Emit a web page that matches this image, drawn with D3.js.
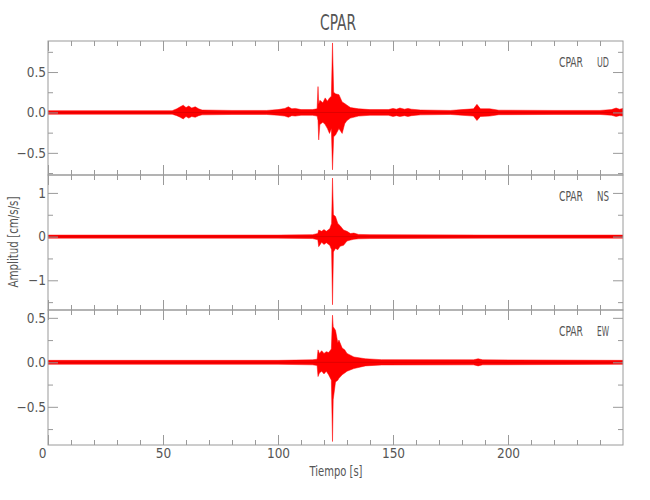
<!DOCTYPE html>
<html><head><meta charset="utf-8">
<script src="https://cdn.jsdelivr.net/npm/d3@7"></script>
<style>body{margin:0;background:#fff}</style>
</head><body><svg id="c" width="650" height="500"></svg>
<script>
// ---- data (envelopes: time [s], upper / lower amplitude [cm/s/s]) ----
const stationName = "CPAR";
const components = ["UD", "NS", "EW"];
const timeDomain = [0, 250];
const timeTicks = [0, 50, 100, 150, 200];

const udT  = [0,20,40,54,56,57.5,58.8,60,61.2,62.5,64,65.5,67,80,95,100,103,104.5,106,107.5,110,115,117,117.4,117.7,118.2,119.5,120.5,121.5,122.4,123.2,123.7,124.2,125,126.5,127.9,129,130,131.5,135,140,148,150,151.5,153,155,156.5,158,162,175,180,185,186.5,188,192,196,220,240,245,247,248.5,250];
const udHi = [0.022,0.022,0.022,0.022,0.045,0.07,0.09,0.06,0.08,0.055,0.07,0.045,0.03,0.025,0.025,0.035,0.05,0.07,0.045,0.05,0.035,0.035,0.045,0.32,0.1,0.15,0.12,0.18,0.14,0.18,0.2,0.86,0.25,0.23,0.22,0.13,0.11,0.09,0.06,0.045,0.035,0.035,0.05,0.04,0.055,0.04,0.05,0.04,0.03,0.025,0.035,0.045,0.1,0.045,0.045,0.028,0.025,0.025,0.035,0.055,0.04,0.05];
const udLo = [-0.022,-0.022,-0.022,-0.022,-0.04,-0.06,-0.08,-0.05,-0.07,-0.05,-0.06,-0.04,-0.03,-0.025,-0.025,-0.035,-0.045,-0.06,-0.04,-0.045,-0.035,-0.035,-0.045,-0.1,-0.34,-0.15,-0.12,-0.15,-0.2,-0.26,-0.2,-0.71,-0.3,-0.28,-0.2,-0.26,-0.14,-0.1,-0.07,-0.045,-0.035,-0.035,-0.05,-0.04,-0.05,-0.04,-0.05,-0.04,-0.03,-0.025,-0.035,-0.045,-0.1,-0.05,-0.045,-0.028,-0.025,-0.025,-0.035,-0.05,-0.04,-0.045];

const nsT  = [0,50,100,115,117.3,117.7,119,120,121,122.5,123.3,123.7,124.1,125,126,127,128.5,130,131.5,133,135,140,190,250];
const nsHi = [0.035,0.035,0.035,0.045,0.07,0.15,0.12,0.16,0.12,0.18,0.3,1.34,0.5,0.46,0.3,0.25,0.15,0.12,0.07,0.08,0.05,0.045,0.035,0.035];
const nsLo = [-0.035,-0.035,-0.035,-0.045,-0.07,-0.23,-0.13,-0.18,-0.14,-0.2,-0.3,-1.56,-0.35,-0.27,-0.3,-0.22,-0.2,-0.1,-0.08,-0.06,-0.05,-0.045,-0.035,-0.035];

const ewT  = [0,50,100,115,117,117.4,118,119,120,121,122,123.2,123.7,124.0,125,126,126.5,127.9,129,130,133,138,145,185,187,189,250];
const ewHi = [0.022,0.022,0.022,0.028,0.035,0.14,0.1,0.13,0.1,0.12,0.11,0.15,0.53,0.4,0.36,0.22,0.25,0.16,0.14,0.1,0.06,0.04,0.03,0.028,0.04,0.028,0.022];
const ewLo = [-0.022,-0.022,-0.022,-0.028,-0.035,-0.16,-0.12,-0.1,-0.13,-0.1,-0.14,-0.2,-0.89,-0.42,-0.22,-0.2,-0.18,-0.14,-0.12,-0.1,-0.07,-0.04,-0.03,-0.028,-0.04,-0.028,-0.022];

const udRange = [-0.774, 0.884], nsRange = [-1.68, 1.41], ewRange = [-0.929, 0.588];
const udTicks = [-0.5, 0, 0.5], udTickLabels = ["\u22120.5", "0.0", "0.5"], udMinor = [-0.75, -0.25, 0.25, 0.75];
const nsTicks = [-1, 0, 1],     nsTickLabels = ["\u22121", "0", "1"],        nsMinor = [-1.5, -0.5, 0.5];
const ewTicks = [-0.5, 0, 0.5], ewTickLabels = ["\u22120.5", "0.0", "0.5"], ewMinor = [-0.75, -0.25, 0.25];

// ---- layout ----
const svg = d3.select("#c");
const FONT = "'Liberation Sans Narrow','DejaVu Sans Condensed','Liberation Sans',sans-serif";
const AX = "#9a9a9a", TX = "#555";
const L = 48, R = 623;
const panelTops = [41, 175, 310], panelBots = [175, 310, 445];

const x = d3.scaleLinear().domain(timeDomain).range([L, R]);
const xMinor = d3.range(timeDomain[0], timeDomain[1] + 1, 10).filter(v => v % 50 !== 0);

const series = [
  {comp: components[0], t: udT, hi: udHi, lo: udLo, range: udRange, ticks: udTicks, labels: udTickLabels, minor: udMinor},
  {comp: components[1], t: nsT, hi: nsHi, lo: nsLo, range: nsRange, ticks: nsTicks, labels: nsTickLabels, minor: nsMinor},
  {comp: components[2], t: ewT, hi: ewHi, lo: ewLo, range: ewRange, ticks: ewTicks, labels: ewTickLabels, minor: ewMinor}
];

svg.append("rect").attr("width", 650).attr("height", 500).attr("fill", "#fff");

series.forEach((s, i) => {
  const top = panelTops[i], bot = panelBots[i];
  const y = d3.scaleLinear().domain(s.range).range([bot, top]);
  const g = svg.append("g");

  const cid = "clip" + i;
  svg.append("clipPath").attr("id", cid).append("rect")
    .attr("x", L).attr("y", top).attr("width", R - L).attr("height", bot - top);

  // trace envelope
  const pts = s.t.map((t, k) => ({t, hi: s.hi[k], lo: s.lo[k]}));
  const area = d3.area().x(d => x(d.t)).y0(d => y(d.lo)).y1(d => y(d.hi));
  g.append("path").datum(pts).attr("d", area)
    .attr("clip-path", `url(#${cid})`)
    .attr("fill", "#ff0000").attr("stroke", "#ff0000").attr("stroke-width", 0.5)
    .attr("stroke-linejoin", "round");
  // zero line through the band (darker core of the dense trace)
  g.append("line").attr("x1", L).attr("x2", R).attr("y1", y(0)).attr("y2", y(0))
    .attr("stroke", "#e00000").attr("stroke-width", 1);

  const styleAxis = sel => {
    sel.select(".domain").remove();
    sel.selectAll("line").attr("stroke", AX);
    sel.selectAll("text").attr("fill", TX).attr("font-family", FONT).attr("font-size", 13.5);
  };
  const fmt = v => s.labels[s.ticks.indexOf(v)];
  g.append("g").attr("transform", `translate(${L},0)`)
    .call(d3.axisLeft(y).tickValues(s.ticks).tickFormat(fmt).tickSize(-10).tickPadding(2)).call(styleAxis);
  g.append("g").attr("transform", `translate(${L},0)`)
    .call(d3.axisLeft(y).tickValues(s.minor).tickFormat("").tickSize(-5)).call(styleAxis);
  g.append("g").attr("transform", `translate(${R},0)`)
    .call(d3.axisRight(y).tickValues(s.ticks).tickFormat("").tickSize(-10)).call(styleAxis);
  g.append("g").attr("transform", `translate(${R},0)`)
    .call(d3.axisRight(y).tickValues(s.minor).tickFormat("").tickSize(-5)).call(styleAxis);

  g.append("g").attr("transform", `translate(0,${top})`)
    .call(d3.axisTop(x).tickValues(timeTicks).tickFormat("").tickSize(-10)).call(styleAxis);
  g.append("g").attr("transform", `translate(0,${top})`)
    .call(d3.axisTop(x).tickValues(xMinor).tickFormat("").tickSize(-5)).call(styleAxis);
  const bAx = g.append("g").attr("transform", `translate(0,${bot})`)
    .call(d3.axisBottom(x).tickValues(timeTicks).tickFormat(i === 2 ? d3.format("d") : "").tickSize(-10).tickPadding(3))
    .call(styleAxis);
  if (i === 2) bAx.selectAll(".tick text").filter(d => d === 0).attr("dx", -6);
  g.append("g").attr("transform", `translate(0,${bot})`)
    .call(d3.axisBottom(x).tickValues(xMinor).tickFormat("").tickSize(-5)).call(styleAxis);

  g.append("rect").attr("x", L).attr("y", top).attr("width", R - L).attr("height", bot - top)
    .attr("fill", "none").attr("stroke", AX).attr("stroke-width", 1);

  // component label
  g.append("text").attr("x", 559).attr("y", top + 26).attr("font-family", FONT).attr("font-size", 14)
    .attr("fill", TX).attr("textLength", 24).attr("lengthAdjust", "spacingAndGlyphs").text(stationName);
  g.append("text").attr("x", 597).attr("y", top + 26).attr("font-family", FONT)
    .attr("font-size", 14).attr("fill", TX).attr("textLength", 12).attr("lengthAdjust", "spacingAndGlyphs").text(s.comp);
});

svg.append("text").attr("x", 338).attr("y", 30).attr("text-anchor", "middle")
  .attr("font-family", FONT).attr("font-size", 21).attr("fill", TX)
  .attr("textLength", 36).attr("lengthAdjust", "spacingAndGlyphs").text(stationName);
svg.append("text").attr("x", 336).attr("y", 476).attr("text-anchor", "middle")
  .attr("font-family", FONT).attr("font-size", 14).attr("fill", TX)
  .attr("textLength", 53).attr("lengthAdjust", "spacingAndGlyphs").text("Tiempo [s]");
svg.append("text").attr("transform", "translate(18,242) rotate(-90)").attr("text-anchor", "middle")
  .attr("font-family", FONT).attr("font-size", 14).attr("fill", TX)
  .attr("textLength", 91).attr("lengthAdjust", "spacingAndGlyphs").text("Amplitud [cm/s/s]");
</script></body></html>
